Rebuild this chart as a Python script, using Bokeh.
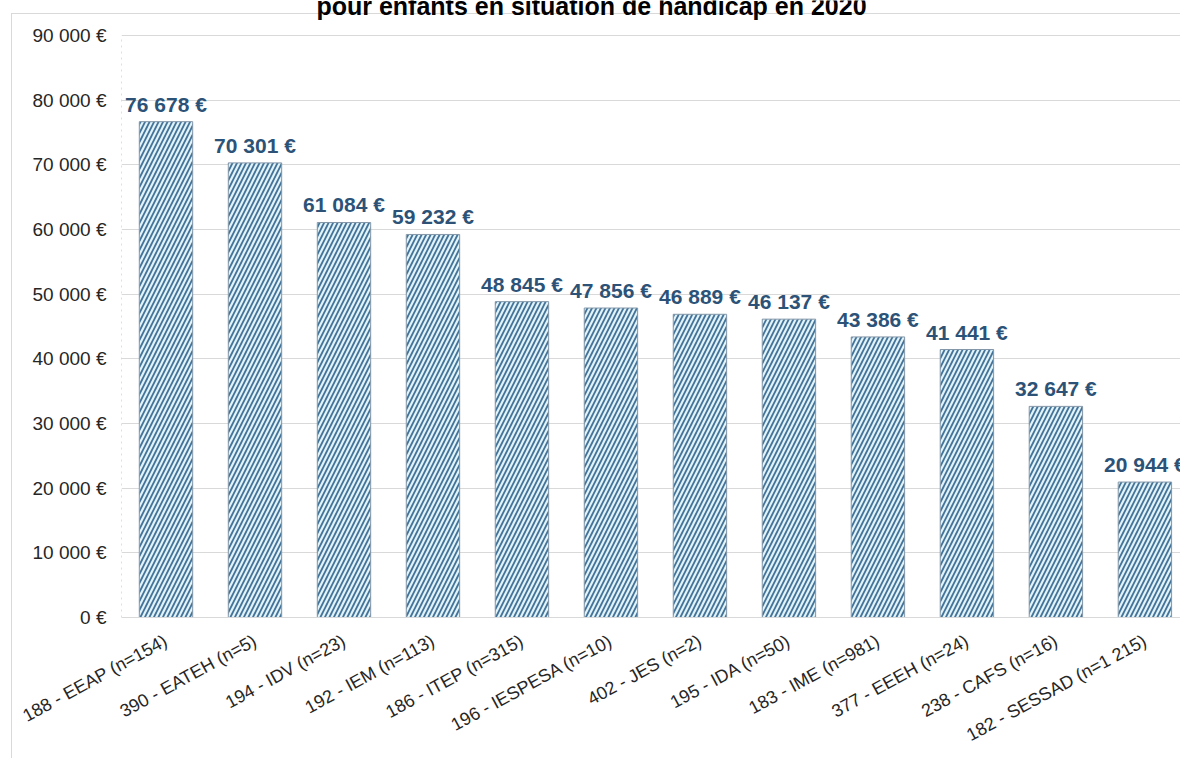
from bokeh.plotting import figure
from bokeh.models import Range1d, FixedTicker, ColumnDataSource, LabelSet, Label
from bokeh.core.properties import value
from bokeh.embed import file_html
from bokeh.resources import INLINE

# ---- data ----
categories = ["188 - EEAP (n=154)", "390 - EATEH (n=5)", "194 - IDV (n=23)",
              "192 - IEM (n=113)", "186 - ITEP (n=315)", "196 - IESPESA (n=10)",
              "402 - JES (n=2)", "195 - IDA (n=50)", "183 - IME (n=981)",
              "377 - EEEH (n=24)", "238 - CAFS (n=16)", "182 - SESSAD (n=1 215)"]
values = [76678, 70301, 61084, 59232, 48845, 47856, 46889, 46137, 43386, 41441, 32647, 20944]
y_ticks = [0, 10000, 20000, 30000, 40000, 50000, 60000, 70000, 80000, 90000]
title_text = "pour enfants en situation de handicap en 2020"


def euro(v):
    return f"{v:,}".replace(",", " ") + " €"


xs = list(range(len(categories)))
source = ColumnDataSource(dict(x=xs, v=values, lab=[euro(v) for v in values]))

W, H = 1180, 758
BL, BB = 121, 141
plot_top_px = 35                      # pixel row of the 90 000 line
frame_h = H - BB                      # frame extends to the top of the canvas
y_max = y_ticks[-1] * frame_h / (frame_h - plot_top_px)
x_start, x_end = -0.5, 11.4

p = figure(width=W, height=H, output_backend="svg", toolbar_location=None,
           x_range=Range1d(x_start, x_end), y_range=Range1d(0, y_max),
           min_border_left=BL, min_border_right=0, min_border_top=0, min_border_bottom=BB,
           tools="")
p.outline_line_color = None
p.background_fill_color = None
p.border_fill_color = None
# light chart border (top and left edges) drawn behind the transparent canvas
p.styles = {
    "background-color": "white",
    "background-image": "linear-gradient(#D9D9D9, #D9D9D9), linear-gradient(#D9D9D9, #D9D9D9)",
    "background-size": "1px 760px, 1180px 1px",
    "background-position": "11px 13px, 11px 13px",
    "background-repeat": "no-repeat",
}

# plot-area left edge (dotted), from 0 to the top tick
p.segment(x0=[x_start], y0=[0], x1=[x_start], y1=[y_ticks[-1]],
          line_color="#BFBFBF", line_dash="dotted", line_width=1)

p.vbar(x="x", top="v", width=0.6, source=source,
       fill_color="#E2F4FA", line_color="#8497A8", line_width=1,
       hatch_pattern="/", hatch_color="#44739A", hatch_scale=9, hatch_weight=1.8)

p.add_layout(LabelSet(x="x", y="v", text="lab", source=source, y_offset=10,
                      text_align="center", text_baseline="alphabetic",
                      text_font=value("Liberation Sans"), text_font_style="bold",
                      text_font_size="21px", text_color="#2C5377"))

# y axis
p.yaxis.ticker = FixedTicker(ticks=y_ticks)
p.yaxis.major_label_overrides = {t: euro(t) for t in y_ticks}
p.yaxis.axis_line_color = None
p.yaxis.major_tick_line_color = None
p.yaxis.minor_tick_line_color = None
p.yaxis.major_tick_out = 0
p.yaxis.major_tick_in = 0
p.yaxis.major_label_standoff = 15
p.yaxis.major_label_text_font = "Liberation Sans"
p.yaxis.major_label_text_font_size = "19px"
p.yaxis.major_label_text_color = "#262626"

# x axis
p.xaxis.ticker = FixedTicker(ticks=xs)
p.xaxis.major_label_overrides = {i: c for i, c in zip(xs, categories)}
p.xaxis.major_label_orientation = 0.5
p.xaxis.axis_line_color = "#D9D9D9"
p.xaxis.major_tick_line_color = None
p.xaxis.minor_tick_line_color = None
p.xaxis.major_tick_out = 0
p.xaxis.major_tick_in = 0
p.xaxis.major_label_standoff = 22
p.xaxis.major_label_text_font = "Liberation Sans"
p.xaxis.major_label_text_font_size = "18px"
p.xaxis.major_label_text_color = "#262626"

# grid
p.xgrid.grid_line_color = None
p.ygrid.ticker = FixedTicker(ticks=y_ticks)
p.ygrid.grid_line_color = "#D9D9D9"
p.ygrid.grid_line_width = 1

# partially visible title (cut at the top as in the reference)
p.add_layout(Label(x=591 - BL, y=frame_h - 5, x_units="screen", y_units="screen",
                   text=title_text, text_align="center", text_baseline="alphabetic",
                   text_font="Liberation Sans", text_font_style="bold",
                   text_font_size="25px", text_color="black"))

open("out.html", "w").write(file_html(p, INLINE))
